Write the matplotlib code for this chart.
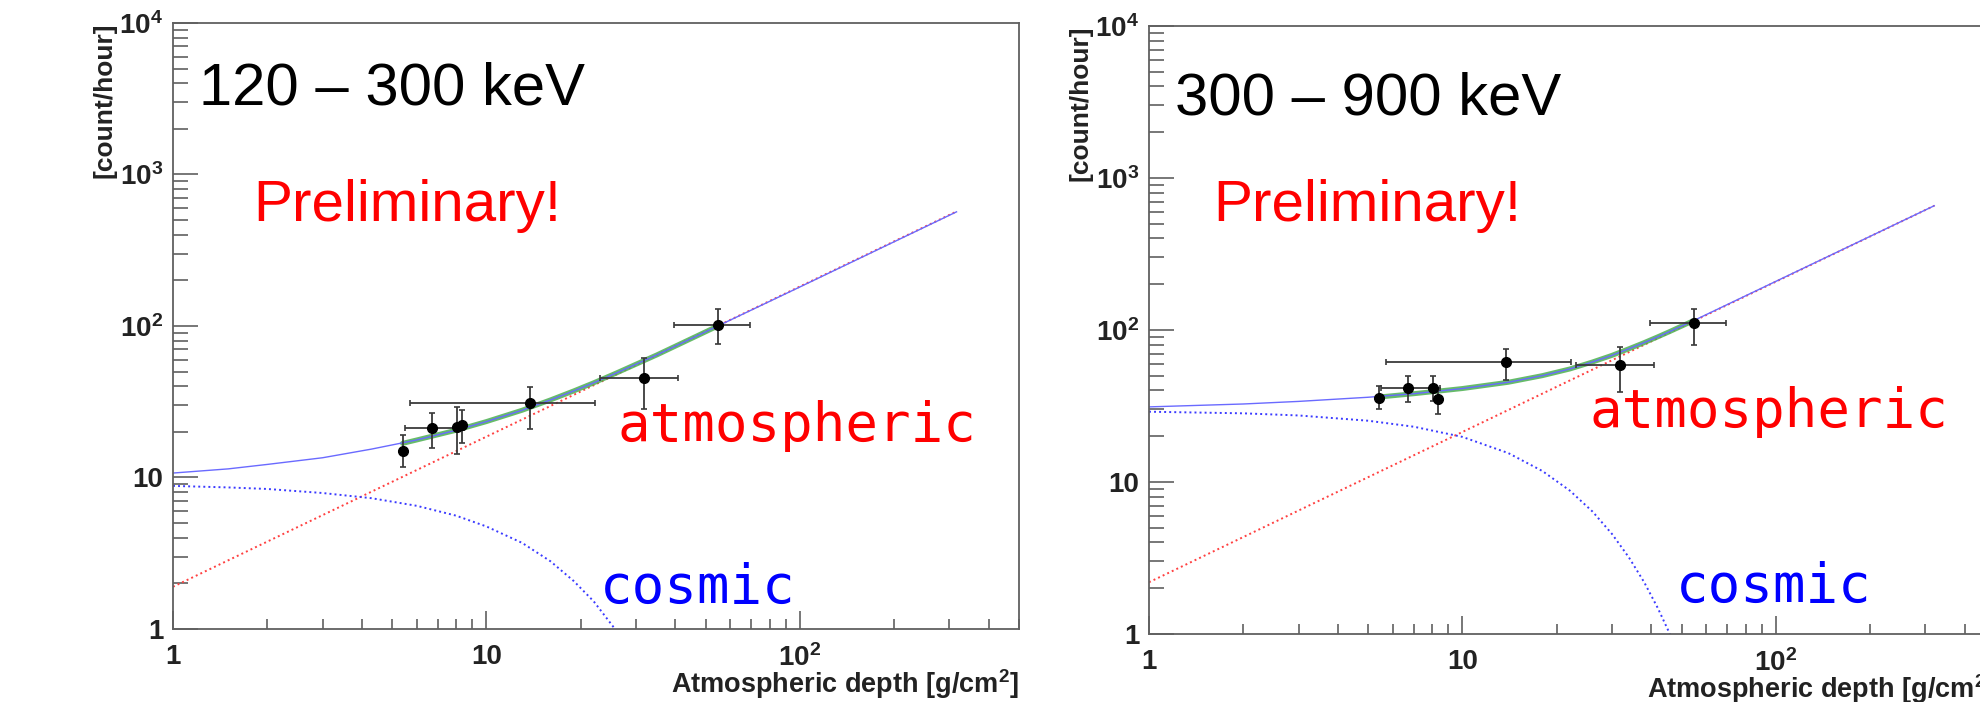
import matplotlib
matplotlib.use("Agg")
import matplotlib.pyplot as plt
from matplotlib.ticker import FixedLocator, LogLocator, NullFormatter

plt.rcParams["font.family"] = ["Liberation Sans", "DejaVu Sans"]
plt.rcParams["mathtext.fontset"] = "custom"
plt.rcParams["mathtext.rm"] = "Liberation Sans:bold"
plt.rcParams["mathtext.it"] = "Liberation Sans:bold"
plt.rcParams["mathtext.bf"] = "Liberation Sans:bold"

# measured points: atmospheric depth [g/cm2] and its bin edges
depth = [5.4, 6.7, 8.08, 8.35, 13.8, 31.9, 54.8]
depth_lo = [5.4, 5.5, 8.08, 8.35, 5.7, 23.1, 39.7]
depth_hi = [5.4, 8.45, 8.08, 8.35, 22.2, 40.8, 69.1]

# 120 - 300 keV count rate [count/hour]
rate_low = [15.0, 21.3, 21.5, 22.2, 30.9, 45.6, 101.0]
rate_low_lo = [11.8, 15.6, 14.4, 16.9, 20.8, 28.2, 76.0]
rate_low_hi = [19.1, 26.5, 29.3, 27.9, 39.7, 61.8, 129.0]

# 300 - 900 keV count rate [count/hour]
rate_high = [35.8, 41.7, 41.7, 34.9, 61.9, 59.0, 110.7]
rate_high_lo = [30.2, 33.8, 34.3, 27.9, 47.2, 39.3, 80.0]
rate_high_hi = [42.6, 49.7, 49.7, 41.7, 75.0, 77.4, 137.6]

# model components, 120 - 300 keV
atm_x_low = [1, 316]
atm_low = [1.9, 570]
cosmic_x_low = [1, 1.5, 2, 3, 4.3, 6, 8, 10, 13, 16, 19, 22, 26]
cosmic_low = [8.8, 8.6, 8.4, 7.9, 7.3, 6.5, 5.6, 4.75, 3.7, 2.8, 2.07, 1.52, 0.97]
total_x_low = [1, 1.5, 2, 3, 4.3, 6, 8, 10, 13, 16, 19, 22, 26, 35, 55, 100, 316]
total_low = [10.7, 11.4, 12.2, 13.5, 15.4, 17.7, 20.5, 23.4, 27.8, 32.5, 37.3,
             42.2, 49.0, 64.5, 100.5, 181, 567]
fit_x_low = [5.4, 6, 8, 10, 13, 16, 19, 22, 26, 35, 55]
fit_low = [16.8, 17.7, 20.5, 23.4, 27.8, 32.5, 37.3, 42.2, 49.0, 64.5, 100.5]

# model components, 300 - 900 keV
atm_x_high = [1, 320]
atm_high = [2.19, 657]
cosmic_x_high = [1, 2, 3, 5, 7, 10, 14, 18, 22, 26, 30, 34, 38, 42, 46, 48]
cosmic_high = [29.0, 28.3, 27.4, 25.3, 23.1, 19.8, 15.5, 11.8, 8.78, 6.39, 4.55,
               3.18, 2.19, 1.48, 0.99, 0.80]
total_x_high = [1, 2, 3, 5, 7, 10, 14, 18, 22, 26, 30, 34, 38, 42, 46, 55, 100, 320]
total_high = [31.2, 32.6, 33.9, 36.1, 38.1, 41.2, 45.3, 50.1, 55.4, 61.6, 68.1,
              75.3, 82.6, 90.2, 98.0, 116, 209, 657]
fit_x_high = [5.4, 7, 10, 14, 18, 22, 26, 30, 34, 38, 42, 46, 55]
fit_high = [36.2, 38.1, 41.2, 45.3, 50.1, 55.4, 61.6, 68.1, 75.3, 82.6, 90.2, 98.0, 116]

x_ticks = [1, 10, 100]
x_tick_labels = ["1", "10", "$10^{2}$"]
y_ticks = [1, 10, 100, 1000, 10000]
y_tick_labels = ["1", "10", "$10^{2}$", "$10^{3}$", "$10^{4}$"]

FRAME = "#606060"
DOTS = (0, (1, 1.6))


def draw_panel(ax, title, title_y, prelim_x, prelim_y, atm_pos, cos_pos,
               rate, rate_lo, rate_hi, atm_x, atm, cos_x, cos, tot_x, tot, fit_x, fit):
    ax.set_xscale("log")
    ax.set_yscale("log")
    ax.set_xlim(1, 500)
    ax.set_ylim(1, 1e4)

    ax.plot(atm_x, atm, color="#ff4040", ls=DOTS, lw=1.4)
    ax.plot(cos_x, cos, color="#3a3aff", ls=DOTS, lw=1.4)
    ax.plot(fit_x, fit, color="#4cb050", lw=3.6, alpha=0.85, solid_capstyle="round")
    ax.plot(tot_x, tot, color="#6a6aff", lw=1.0)

    xerr = [[d - lo for d, lo in zip(depth, depth_lo)],
            [hi - d for d, hi in zip(depth, depth_hi)]]
    yerr = [[r - lo for r, lo in zip(rate, rate_lo)],
            [hi - r for r, hi in zip(rate, rate_hi)]]
    ax.errorbar(depth, rate, xerr=xerr, yerr=yerr, fmt="o", color="black", ms=7,
                ecolor="#3a3a3a", elinewidth=1.3, capsize=2.5, capthick=1.2, zorder=5)

    ax.text(0.0307, title_y, title, transform=ax.transAxes, ha="left", va="baseline",
            fontsize=43, color="black")
    ax.text(prelim_x, prelim_y, "Preliminary!", transform=ax.transAxes, ha="left",
            va="baseline", fontsize=42, color="#ff0000")
    ax.text(atm_pos[0], atm_pos[1], "atmospheric", transform=ax.transAxes, ha="left",
            va="baseline", fontsize=39, family="DejaVu Sans Mono", color="#ff0000")
    ax.text(cos_pos[0], cos_pos[1], "cosmic", transform=ax.transAxes, ha="left",
            va="baseline", fontsize=39, family="DejaVu Sans Mono", color="#0000ff")

    ax.text(-0.081, 1.0, "[count/hour]", transform=ax.transAxes, rotation=90,
            ha="center", va="top", fontsize=19, fontweight="bold", color="#222222")
    ax.text(1.0, -0.106, "Atmospheric depth [g/cm$^{2}$]", transform=ax.transAxes,
            ha="right", va="baseline", fontsize=19.5, fontweight="bold", color="#222222")

    ax.xaxis.set_major_locator(FixedLocator(x_ticks))
    ax.set_xticklabels(x_tick_labels, fontsize=20, fontweight="bold", color="#222222")
    ax.yaxis.set_major_locator(FixedLocator(y_ticks))
    ax.set_yticklabels(y_tick_labels, fontsize=20, fontweight="bold", color="#222222")
    for axis in (ax.xaxis, ax.yaxis):
        axis.set_minor_locator(LogLocator(base=10, subs=range(2, 10), numticks=20))
        axis.set_minor_formatter(NullFormatter())

    ax.tick_params(axis="x", which="major", direction="in", length=13, width=1.2,
                   color=FRAME, pad=11, top=False)
    ax.tick_params(axis="x", which="minor", direction="in", length=7, width=1.2,
                   color=FRAME, top=False)
    ax.tick_params(axis="y", which="major", direction="in", length=18, width=1.2,
                   color=FRAME, pad=7, right=False)
    ax.tick_params(axis="y", which="minor", direction="in", length=11, width=1.2,
                   color=FRAME, right=False)
    for sp in ax.spines.values():
        sp.set_color(FRAME)
        sp.set_linewidth(1.3)


fig = plt.figure(figsize=(19.81, 7.02), dpi=100)
ax_low = fig.add_axes([0.08733, 0.10399, 0.42706, 0.86325])
ax_high = fig.add_axes([0.58001, 0.09687, 0.42706, 0.86610])

draw_panel(ax_low, "120 – 300 keV", 0.8647, 0.0946, 0.673, (0.525, 0.310), (0.505, 0.043),
           rate_low, rate_low_lo, rate_low_hi, atm_x_low, atm_low,
           cosmic_x_low, cosmic_low, total_x_low, total_low, fit_x_low, fit_low)
draw_panel(ax_high, "300 – 900 keV", 0.855, 0.0757, 0.679, (0.521, 0.340), (0.623, 0.053),
           rate_high, rate_high_lo, rate_high_hi, atm_x_high, atm_high,
           cosmic_x_high, cosmic_high, total_x_high, total_high, fit_x_high, fit_high)

fig.savefig("out.png", dpi=100)
